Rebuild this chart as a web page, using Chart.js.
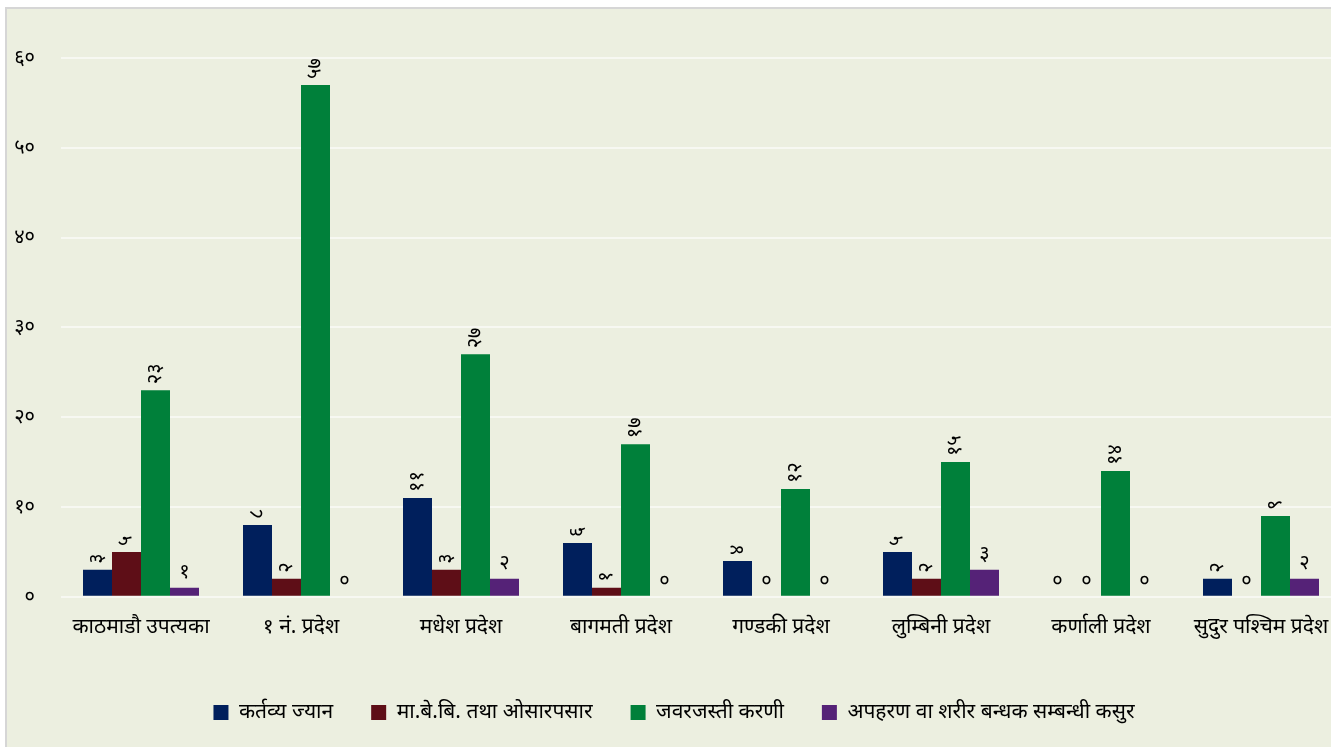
<!DOCTYPE html>
<html>
<head>
<meta charset="utf-8">
<script src="https://cdn.jsdelivr.net/npm/chart.js@4.4.0/dist/chart.umd.min.js"></script>
<style>
  html, body { margin: 0; padding: 0; background: #ffffff; overflow: hidden; }
  #wrap {
    position: absolute; left: 5px; top: 7px;
    width: 1345px; height: 745px;
    background: #ECEFE0;
    border-left: 2px solid #D6D6D6;
    border-top: 2px solid #D6D6D6;
  }
  #wrap canvas { display: block; }
</style>
</head>
<body>
<div id="wrap"><canvas id="myChart" width="1345" height="738"></canvas></div>
<script>
/* globals Chart:false */
(() => {
  'use strict'

  const categories = ['काठमाडौ उपत्यका', '१ नं. प्रदेश', 'मधेश प्रदेश', 'बागमती प्रदेश',
    'गण्डकी प्रदेश', 'लुम्बिनी प्रदेश', 'कर्णाली प्रदेश', 'सुदुर पश्चिम प्रदेश']
  const seriesNames = ['कर्तव्य ज्यान', 'मा.बे.बि. तथा ओसारपसार', 'जवरजस्ती करणी', 'अपहरण वा शरीर बन्धक सम्बन्धी कसुर']
  const murder = [3, 8, 11, 6, 4, 5, 0, 2]
  const trafficking = [5, 2, 3, 1, 0, 2, 0, 0]
  const rape = [23, 57, 27, 17, 12, 15, 14, 9]
  const kidnapping = [1, 0, 2, 0, 0, 3, 0, 2]
  const colors = ['#001F5C', '#5E0E17', '#00803A', '#552277']
  const yTicks = [0, 10, 20, 30, 40, 50, 60]

  const devDigits = '०१२३४५६७८९'
  const toDev = n => String(n).replace(/[0-9]/g, d => devDigits[+d])

  // value labels above each bar
  const barLabels = {
    id: 'barLabels',
    afterDatasetsDraw(chart) {
      const ctx = chart.ctx
      ctx.save()
      ctx.fillStyle = '#000'
      ctx.font = '20px "Noto Sans", sans-serif'
      chart.data.datasets.forEach((ds, i) => {
        chart.getDatasetMeta(i).data.forEach((bar, j) => {
          const txt = toDev(ds.data[j])
          if (i < 3 && ds.data[j] !== 0) {
            ctx.save()
            ctx.translate(bar.x, bar.y - 6)
            ctx.rotate(-Math.PI / 2)
            ctx.textAlign = 'left'
            ctx.textBaseline = 'middle'
            ctx.fillText(txt, 0, 0)
            ctx.restore()
          } else {
            ctx.textAlign = 'center'
            ctx.textBaseline = 'bottom'
            ctx.fillText(txt, bar.x, bar.y - 6)
          }
        })
      })
      ctx.restore()
    }
  }

  const ctx = document.getElementById('myChart')
  // eslint-disable-next-line no-unused-vars
  const myChart = new Chart(ctx, {
    type: 'bar',
    data: {
      labels: categories,
      datasets: [murder, trafficking, rape, kidnapping].map((d, i) => ({
        label: seriesNames[i],
        data: d,
        backgroundColor: colors[i],
        borderWidth: 0,
        categoryPercentage: 0.725,
        barPercentage: 1
      }))
    },
    plugins: [barLabels],
    options: {
      responsive: false,
      animation: false,
      layout: { padding: { top: 49, left: 0, right: 11, bottom: 14 } },
      plugins: {
        legend: {
          position: 'bottom',
          labels: {
            boxWidth: 15,
            boxHeight: 15,
            padding: 38,
            color: '#000',
            font: { size: 21, family: '"Noto Sans", sans-serif' }
          }
        },
        tooltip: { enabled: false }
      },
      scales: {
        x: {
          grid: { display: false },
          border: { display: false },
          ticks: {
            color: '#000',
            padding: 10,
            font: { size: 21, family: '"Noto Sans", sans-serif' },
            maxRotation: 0
          },
          afterFit: axis => { axis.height += 14 }
        },
        y: {
          min: 0,
          max: 60,
          afterBuildTicks: axis => { axis.ticks = yTicks.map(v => ({ value: v })) },
          afterFit: axis => { axis.width = 54 },
          grid: { color: '#F7F8F2', lineWidth: 2, drawTicks: false },
          border: { display: false },
          ticks: {
            color: '#000',
            padding: 26,
            font: { size: 20, family: '"Noto Sans", sans-serif' },
            callback: v => toDev(v)
          }
        }
      }
    }
  })
})()
</script>
</body>
</html>
